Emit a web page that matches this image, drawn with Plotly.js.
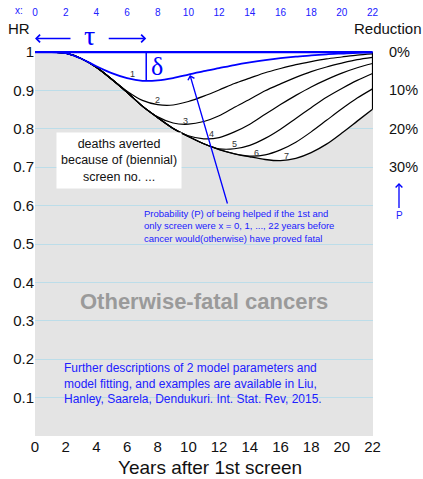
<!DOCTYPE html>
<html>
<head>
<meta charset="utf-8">
<script src="https://cdn.plot.ly/plotly-3.0.1.min.js"></script>
<style>html,body{margin:0;padding:0;background:#fff;}#chart{width:423px;height:479px;}</style>
</head>
<body>
<div id="chart"></div>
<script>
// ---------- data ----------
const years = [0,1,2,3,4,5,6,7,8,9,10,11,12,13,14,15,16,17,18,19,20,21,22];
// hazard ratio (HR) after the first k biennial screens
const hrScreen1 = [1,1,0.997,0.983,0.963,0.945,0.932,0.925,0.926,0.932,0.941,0.950,0.958,0.966,0.973,0.979,0.984,0.988,0.991,0.994,0.996,0.998,0.999];
const hrScreen2 = [1,1,0.997,0.983,0.960,0.929,0.898,0.874,0.863,0.862,0.871,0.885,0.901,0.918,0.932,0.946,0.957,0.967,0.975,0.982,0.987,0.992,0.995];
const hrScreen3 = [1,1,0.997,0.983,0.960,0.929,0.895,0.859,0.831,0.815,0.812,0.819,0.834,0.856,0.877,0.899,0.917,0.934,0.949,0.961,0.971,0.980,0.986];
const hrScreen4 = [1,1,0.997,0.983,0.960,0.929,0.895,0.859,0.829,0.801,0.782,0.774,0.777,0.792,0.812,0.838,0.863,0.887,0.909,0.928,0.945,0.959,0.970];
const hrScreen5 = [1,1,0.997,0.983,0.960,0.929,0.895,0.859,0.829,0.801,0.780,0.761,0.748,0.748,0.757,0.775,0.799,0.827,0.855,0.882,0.905,0.926,0.944];
const hrScreen6 = [1,1,0.997,0.983,0.960,0.929,0.895,0.859,0.829,0.801,0.780,0.761,0.746,0.735,0.729,0.732,0.745,0.765,0.792,0.822,0.852,0.880,0.904];
const hrScreen7 = [1,1,0.997,0.983,0.960,0.929,0.895,0.859,0.829,0.801,0.780,0.761,0.746,0.735,0.727,0.720,0.717,0.723,0.738,0.760,0.789,0.820,0.851];
const hrNoScreen = years.map(() => 1);
const screenLabels = ['1','2','3','4','5','6','7'];
const xTickVals = [0,2,4,6,8,10,12,14,16,18,20,22];
const yTickVals = [0.1,0.2,0.3,0.4,0.5,0.6,0.7,0.8,0.9,1];
const yTickText = ['0.1','0.2','0.3','0.4','0.5','0.6','0.7','0.8','0.9','1'];
const reductionText = ['0%','10%','20%','30%'];
const reductionHR = [1,0.9,0.8,0.7];
const deltaYear = 7.25;
const deltaMinHR = 0.925;

// ---------- styling / placement ----------
const F = 'Liberation Sans, Arial, sans-serif';
const SERIF = 'Liberation Serif, Times New Roman, serif';
const BLUE = '#0000ff';
const TBLUE = '#2020ff';
const labelPos = [[6.38,0.942],[8.0,0.874],[9.83,0.820],[11.5,0.786],[12.97,0.760],[14.43,0.738],[16.4,0.729]];
const MT = 18, MB = 43;
const PH = 479 - MT - MB;
const py = p => (479 - MB - p) / PH; // paper y from pixel row
const px = p => (p - 35) / 338;      // paper x from pixel column

const last = years.length - 1;

const traces = [];
traces.push({x:years, y:hrNoScreen, mode:'lines', line:{color:BLUE, width:0}, hoverinfo:'skip'});
traces.push({x:years, y:hrScreen7, mode:'lines', fill:'tonexty', fillcolor:'#ffffff',
  line:{color:'#000', width:1.3, shape:'spline', smoothing:0.8}, hoverinfo:'skip'});
[hrScreen6,hrScreen5,hrScreen4,hrScreen3,hrScreen2].forEach(c => traces.push(
  {x:years, y:c, mode:'lines', line:{color:'#000', width:1.2, shape:'spline', smoothing:0.8}, hoverinfo:'skip'}));
traces.push({x:[years[last],years[last]], y:[hrNoScreen[last], hrScreen7[last]], mode:'lines',
  line:{color:'#000', width:1.3}, hoverinfo:'skip'});
traces.push({x:years, y:hrScreen1, mode:'lines', line:{color:BLUE, width:1.8, shape:'spline', smoothing:0.8}, hoverinfo:'skip'});
traces.push({x:years, y:hrNoScreen, mode:'lines', line:{color:BLUE, width:2.4}, hoverinfo:'skip'});
traces.push({x:[years[0],years[last]], y:[1,1], xaxis:'x2', mode:'lines', line:{width:0}, hoverinfo:'skip'});

const C = {xanchor:'center', yanchor:'middle'};
const ann = [];
screenLabels.forEach((t,i) => ann.push({...C, x:labelPos[i][0], y:labelPos[i][1], xref:'x', yref:'y', text:t,
  showarrow:false, font:{size:9, color:'#333'}}));
reductionText.forEach((t,i) => ann.push({x:px(387), y:reductionHR[i], xref:'paper', yref:'y', text:t,
  xanchor:'left', yanchor:'middle', showarrow:false, font:{size:14.5, color:'#111'}}));
ann.push({...C, x:px(19), y:py(11), xref:'paper', yref:'paper', text:'x:', showarrow:false, font:{size:10, color:TBLUE}});
ann.push({...C, x:px(18.5), y:py(28), xref:'paper', yref:'paper', text:'HR', showarrow:false, font:{size:15, color:'#111'}});
ann.push({...C, x:px(387.5), y:py(28), xref:'paper', yref:'paper', text:'Reduction', showarrow:false, font:{size:15, color:'#111'}});
// tau arrows
ann.push({x:0, y:py(38.5), xref:'x', yref:'paper', text:'', showarrow:true, ax:37, ay:0,
  arrowhead:4, arrowsize:1, arrowwidth:1.5, arrowcolor:BLUE});
ann.push({x:deltaYear, y:py(38.5), xref:'x', yref:'paper', text:'', showarrow:true, ax:-39, ay:0,
  arrowhead:4, arrowsize:1, arrowwidth:1.5, arrowcolor:BLUE});
ann.push({...C, x:3.58, y:py(35.5), xref:'x', yref:'paper', text:'τ', showarrow:false, font:{family:SERIF, size:28, color:BLUE}});
ann.push({...C, x:7.97, y:0.9635, xref:'x', yref:'y', text:'δ', showarrow:false, font:{family:SERIF, size:26, color:BLUE}});
// P arrow on the right
ann.push({...C, x:px(399), y:py(183), xref:'paper', yref:'paper', text:'P', showarrow:true, ax:0, ay:32,
  arrowhead:4, arrowsize:1, arrowwidth:1.3, arrowcolor:BLUE, font:{size:10, color:TBLUE}});
// probability arrow
ann.push({x:10.1, y:0.94, xref:'x', yref:'y', axref:'x', ayref:'y', ax:12.57, ay:0.6016, text:'',
  showarrow:true, arrowhead:4, arrowsize:1, arrowwidth:1.3, arrowcolor:BLUE});
ann.push({x:6.97, y:0.547, xref:'x', yref:'y', xanchor:'left', yanchor:'middle', align:'left', showarrow:false,
  text:'Probability (P) of being helped if the 1st and<br>only screen were x = 0, 1, ..., 22 years before<br>cancer would(otherwise) have proved fatal',
  font:{size:9.5, color:TBLUE}});
ann.push({...C, x:5.5, y:0.7174, xref:'x', yref:'y', showarrow:false, bgcolor:'#ffffff', borderpad:4,
  text:'deaths averted<br>because of (biennial)<br>screen no. ...', font:{size:12.5, color:'#111'}});
ann.push({...C, x:11.0, y:0.350, xref:'x', yref:'y', showarrow:false, text:'<b>Otherwise-fatal cancers</b>',
  font:{size:22, color:'#9a9a9a'}});
ann.push({x:1.76, y:0.138, xref:'x', yref:'y', xanchor:'left', yanchor:'middle', align:'left', showarrow:false,
  text:'Further descriptions of 2 model parameters and<br>model fitting, and examples are available in Liu,<br>Hanley, Saarela, Dendukuri. Int. Stat. Rev, 2015.',
  font:{size:12, color:TBLUE}});
ann.push({...C, x:px(210), y:py(467.5), xref:'paper', yref:'paper', showarrow:false, text:'Years after 1st screen',
  font:{size:19, color:'#111'}});

const layout = {
  width:423, height:479,
  margin:{l:35, r:50, t:MT, b:MB},
  paper_bgcolor:'#ffffff', plot_bgcolor:'#e4e4e4',
  showlegend:false, hovermode:false,
  font:{family:F, size:15, color:'#111'},
  xaxis:{range:[0,22.03], tickvals:xTickVals, showgrid:false, zeroline:false, showline:false, ticks:'',
    tickfont:{size:15, color:'#111'}, fixedrange:true},
  xaxis2:{overlaying:'x', side:'top', anchor:'free', position:1, range:[0,22.03], tickvals:xTickVals,
    showgrid:false, zeroline:false, showline:false, ticks:'', tickfont:{size:10, color:TBLUE}},
  yaxis:{domain:[0, py(51)], range:[0,1.0026], tickvals:yTickVals, ticktext:yTickText,
    showgrid:true, gridcolor:'#bcdde9', gridwidth:1, zeroline:false, showline:false, ticks:'',
    tickfont:{size:15, color:'#111'}, fixedrange:true},
  shapes:[{type:'line', xref:'x', yref:'y', x0:deltaYear, x1:deltaYear, y0:1, y1:deltaMinHR,
    line:{color:BLUE, width:1.5}}],
  annotations:ann
};
Plotly.newPlot('chart', traces, layout, {displayModeBar:false, staticPlot:true});
</script>
</body>
</html>
